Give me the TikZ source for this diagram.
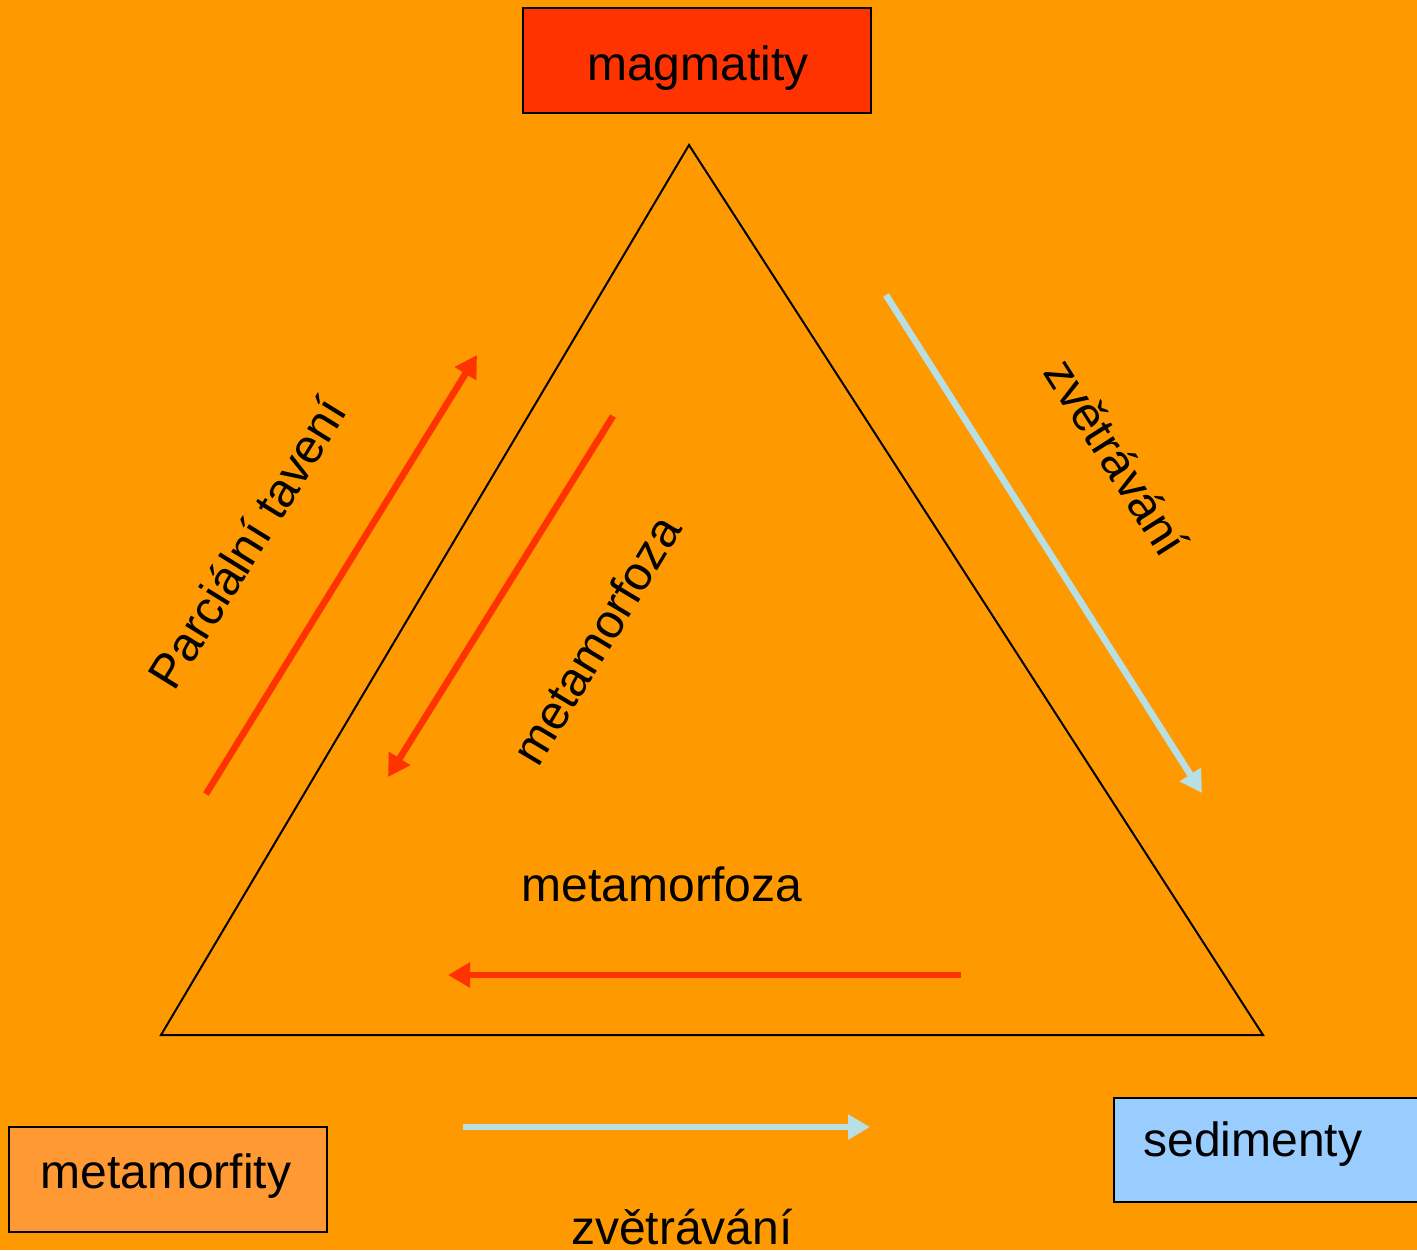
\documentclass[tikz,border=0pt]{standalone}
\usepackage{fontspec}
\setmainfont{Liberation Sans}
\usetikzlibrary{arrows.meta}
\definecolor{bgorange}{HTML}{FF9900}
\definecolor{magred}{HTML}{FF3300}
\definecolor{metaorange}{HTML}{FF9933}
\definecolor{sedblue}{HTML}{99CCFF}
\definecolor{weatherblue}{HTML}{B8DFE3}
\begin{document}
\begin{tikzpicture}[x=0.5pt,y=-0.5pt,
  lbl/.style={font=\fontsize{24pt}{28pt}\selectfont, inner sep=0pt},
  rockbox/.style={draw=black, line width=1pt, inner sep=0pt},
  redarrow/.style={draw=magred, line width=3.3pt, -{Triangle[length=11pt,width=12pt]}},
  bluearrow/.style={draw=weatherblue, line width=3.3pt, -{Triangle[length=11pt,width=12pt]}},
  tri/.style={draw=black, line width=1pt}]
\fill[bgorange] (0,0) rectangle (1417,1250);
\useasboundingbox (0,0) rectangle (1417,1250);

% boxes
\node[rockbox, fill=magred, minimum width=174pt, minimum height=52.5pt] (mag) at (697,60.5) {};
\node[lbl, anchor=base] (magt) at (698,80) {magmatity};
\node[rockbox, fill=metaorange, minimum width=159pt, minimum height=52.5pt] (meta) at (168,1179.5) {};
\node[lbl, anchor=base west] (metat) at (40,1188) {metamorfity};
\node[rockbox, fill=sedblue, minimum width=160pt, minimum height=52pt, anchor=north west] (sed) at (1113,1097) {};
\node[lbl, anchor=base west] (sedt) at (1143,1156) {sedimenty};

% triangle
\coordinate (top) at (689,145);
\coordinate (bl) at (161,1035);
\coordinate (br) at (1263,1035);
\draw[tri] (top) -- (br) -- (bl) -- cycle;

% arrows
\coordinate (pt1) at (206,794);
\coordinate (pt2) at (477,355);
\draw[redarrow] (pt1) -- (pt2);
\coordinate (mm1) at (613,416);
\coordinate (mm2) at (388,777);
\draw[redarrow] (mm1) -- (mm2);
\coordinate (zv1) at (886,295);
\coordinate (zv2) at (1202,793);
\draw[bluearrow] (zv1) -- (zv2);
\coordinate (mh1) at (961,975);
\coordinate (mh2) at (448,975);
\draw[redarrow] (mh1) -- (mh2);
\coordinate (zh1) at (463,1127);
\coordinate (zh2) at (870,1127);
\draw[bluearrow] (zh1) -- (zh2);

% labels
\node[lbl, rotate=58.3] (lpt) at (247,543) {Parciální tavení};
\node[lbl, rotate=59] (lmm) at (596,640) {metamorfoza};
\node[lbl, rotate=-57.6] (lzv) at (1117,457) {zvětrávání};
\node[lbl] (lmh) at (662,884) {metamorfoza};
\node[lbl] (lzh) at (682,1227) {zvětrávání};
\end{tikzpicture}
\end{document}
